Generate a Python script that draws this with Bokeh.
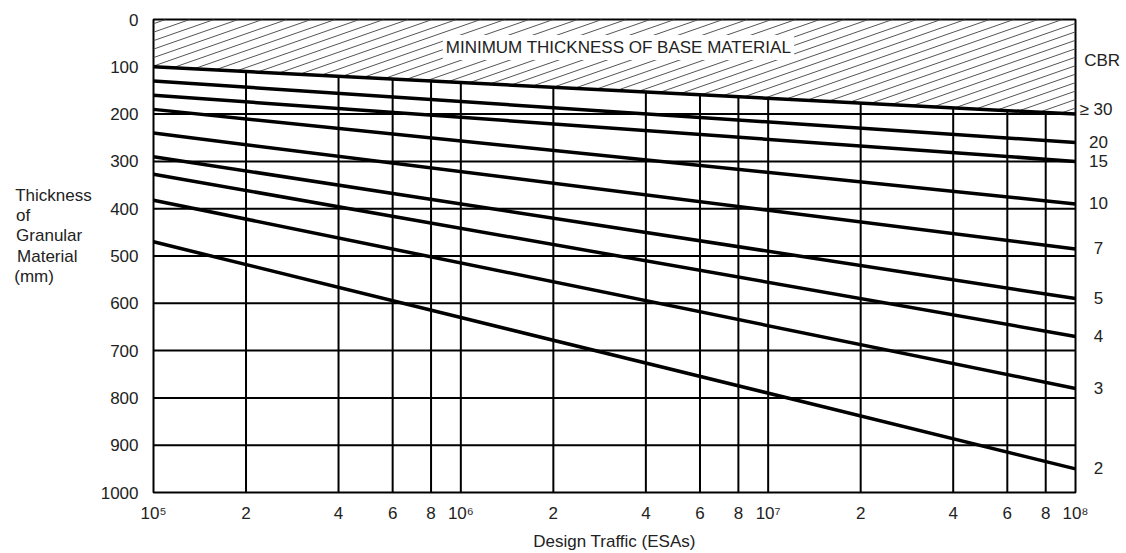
import numpy as np
from bokeh.plotting import figure
from bokeh.models import (Range1d, FixedTicker, CustomJSTickFormatter, Label,
                          LinearAxis)
from bokeh.embed import file_html
from bokeh.resources import INLINE

# ---------------- data ----------------
cbr_labels = ["\u2265 30", "20", "15", "10", "7", "5", "4", "3", "2"]
esa_start = 1e5
esa_end = 1e8
thickness_at_1e5 = [100, 130, 160, 190, 240, 290, 327, 382, 470]
thickness_at_1e8 = [200, 260, 300, 390, 485, 590, 670, 780, 950]

x_ticks = [1e5, 2e5, 4e5, 6e5, 8e5, 1e6, 2e6, 4e6, 6e6, 8e6, 1e7, 2e7, 4e7, 6e7, 8e7, 1e8]
x_tick_labels = ["10\u2075", "2", "4", "6", "8", "10\u2076", "2", "4", "6", "8",
                 "10\u2077", "2", "4", "6", "8", "10\u2078"]
y_ticks = [0, 100, 200, 300, 400, 500, 600, 700, 800, 900, 1000]
h_grid = [200, 300, 400, 500, 600, 700, 800, 900]
v_grid = [2e5, 4e5, 6e5, 8e5, 1e6, 2e6, 4e6, 6e6, 8e6, 1e7, 2e7, 4e7, 6e7, 8e7]
y_title_lines = ["Thickness", "of", "Granular", "Material", "(mm)"]

FONT = "Liberation Sans"
TXT = "#222222"
NBSP = "\u00a0"

p = figure(width=1126, height=553, x_axis_type="log",
           x_range=Range1d(esa_start, esa_end), y_range=Range1d(1000, 0),
           output_backend="svg", toolbar_location=None,
           min_border_left=153, min_border_right=51,
           min_border_top=19, min_border_bottom=60)
p.grid.visible = False
p.outline_line_color = "black"
p.outline_line_width = 2
p.background_fill_color = "white"
p.border_fill_color = "white"

# minimum-thickness boundary (CBR >= 30 line)
l0, l1 = np.log10(esa_start), np.log10(esa_end)
b0, b1 = thickness_at_1e5[0], thickness_at_1e8[0]

def boundary(x):
    return b0 + (b1 - b0) * (np.log10(x) - l0) / (l1 - l0)

# hatch pattern in the minimum-thickness region (shallow diagonal lines)
k = 227.0          # thickness units per decade (sets the hatch angle)
step = 17.9        # vertical spacing of hatch lines
slope_b = (b1 - b0) / (l1 - l0)
hx0, hy0, hx1, hy1 = [], [], [], []
for c in np.arange(step * 0.5, b1 + k * (l1 - l0) + step, step):
    us = max(0.0, (c - b0) / (k + slope_b))
    ue = min(l1 - l0, c / k)
    if ue > us:
        hx0.append(10 ** (l0 + us)); hy0.append(c - k * us)
        hx1.append(10 ** (l0 + ue)); hy1.append(c - k * ue)
p.segment(x0=hx0, y0=hy0, x1=hx1, y1=hy1, line_color="#555555", line_width=1)

# grid lines (below the boundary only)
p.segment(x0=[esa_start] * len(h_grid), x1=[esa_end] * len(h_grid),
          y0=h_grid, y1=h_grid, line_color="black", line_width=2)
p.segment(x0=v_grid, x1=v_grid, y0=[boundary(v) for v in v_grid],
          y1=[1000] * len(v_grid), line_color="black", line_width=2)

# CBR design lines
p.multi_line(xs=[[esa_start, esa_end] for _ in cbr_labels],
             ys=[[a, b] for a, b in zip(thickness_at_1e5, thickness_at_1e8)],
             line_color="black", line_width=3.5)

NEAREST_JS = """
let best = 0, bd = Infinity;
for (let i = 0; i < tvals.length; i++) {
  const d = Math.abs(%s - %s);
  if (d < bd) { bd = d; best = i; }
}
return tlabels[best];
"""

def style_axis(ax):
    ax.axis_line_color = None
    ax.major_tick_line_color = None
    ax.minor_tick_line_color = None
    ax.major_tick_out = 0
    ax.major_tick_in = 0
    ax.minor_tick_out = 0
    ax.minor_tick_in = 0
    ax.major_label_text_font = FONT
    ax.major_label_text_font_size = "17px"
    ax.major_label_text_color = TXT
    ax.axis_label_text_font = FONT
    ax.axis_label_text_font_size = "17px"
    ax.axis_label_text_color = TXT
    ax.axis_label_text_font_style = "normal"

# bottom axis
xax = p.below[0]
style_axis(xax)
xax.ticker = FixedTicker(ticks=x_ticks)
xax.formatter = CustomJSTickFormatter(
    args=dict(tvals=x_ticks, tlabels=x_tick_labels),
    code=NEAREST_JS % ("Math.log10(tvals[i])", "Math.log10(tick)"))
xax.major_label_standoff = 11
xax.axis_label = "Design Traffic (ESAs)"
xax.axis_label_standoff = 6

# left axis; title lines are left-aligned by padding with no-break spaces
pad_counts = [0, 13, 2, 3, 8]
title_text = "\n".join(t + NBSP * n for t, n in zip(y_title_lines, pad_counts)) + "\n" + NBSP + "\n" + NBSP
yax = p.left[0]
style_axis(yax)
yax.ticker = FixedTicker(ticks=y_ticks)
yax.major_label_standoff = 15
yax.axis_label = title_text
yax.axis_label_orientation = "horizontal"
yax.axis_label_standoff = 6
yax.axis_label_text_line_height = 1.06

# right axis carrying the CBR labels (roughly centred in their column)
right_pos = [86, thickness_at_1e8[0] - 10] + thickness_at_1e8[1:]
right_labels = ["CBR"] + cbr_labels
def centre_pad(s):
    n = len(s)
    return NBSP * (3 if n == 1 else 2 if n == 2 else 1 if n == 3 else 0) + s
right_texts = [centre_pad(s) for s in right_labels]
rax = LinearAxis(ticker=FixedTicker(ticks=right_pos))
style_axis(rax)
rax.formatter = CustomJSTickFormatter(
    args=dict(tvals=right_pos, tlabels=right_texts),
    code=NEAREST_JS % ("tvals[i]", "tick"))
rax.major_label_standoff = 4
p.add_layout(rax, "right")

# text inside the hatched region
p.add_layout(Label(x=10 ** 6.513, y=59, text="MINIMUM THICKNESS OF BASE MATERIAL",
                   text_align="center", text_baseline="middle",
                   text_font=FONT, text_font_size="17px", text_color=TXT,
                   background_fill_color="white", padding=3))

open("out.html", "w").write(file_html(p, INLINE))
